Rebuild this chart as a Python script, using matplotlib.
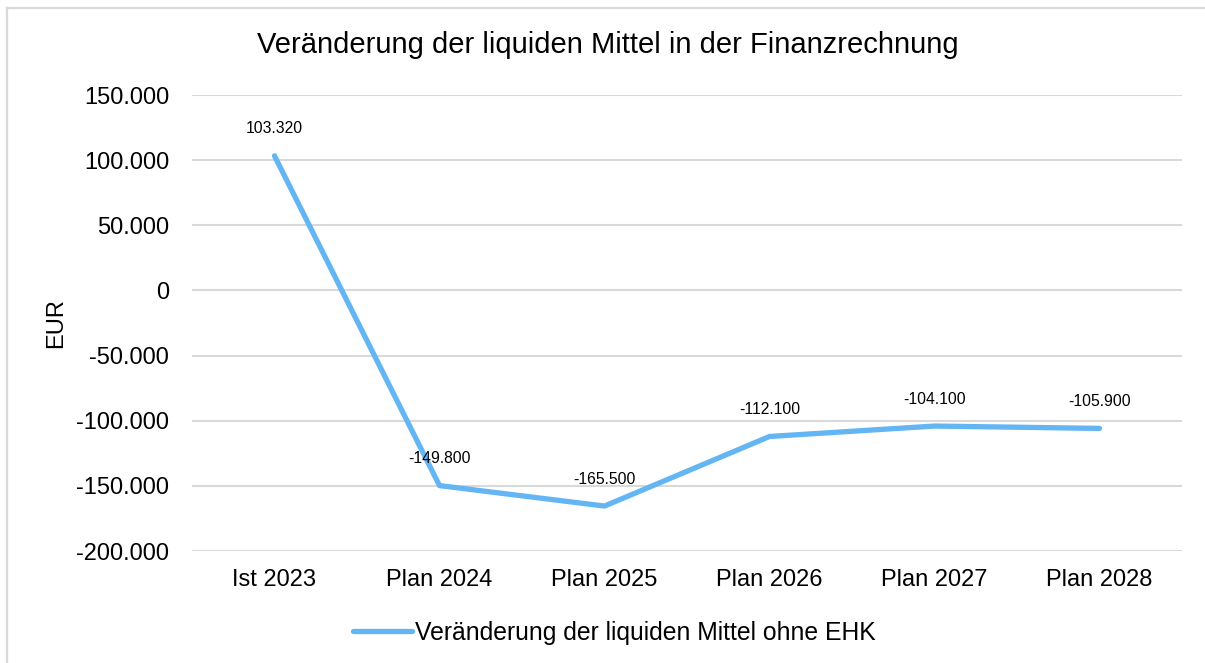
import numpy as np
import matplotlib.pyplot as plt
from matplotlib.ticker import FuncFormatter
from matplotlib.lines import Line2D

plt.rcParams['font.family'] = ['Liberation Sans', 'DejaVu Sans']

# Data
categories = ['Ist 2023', 'Plan 2024', 'Plan 2025', 'Plan 2026', 'Plan 2027', 'Plan 2028']
values = [103320, -149800, -165500, -112100, -104100, -105900]
series_name = 'Veränderung der liquiden Mittel ohne EHK'
title = 'Veränderung der liquiden Mittel in der Finanzrechnung'


def de_format(v, pos=None):
    # German thousands separator
    s = '{:,.0f}'.format(v).replace(',', '.')
    return s


W, H = 1205, 663
fig = plt.figure(figsize=(W / 100, H / 100), dpi=100)
ax = fig.add_axes([192 / W, 1 - 551 / H, (1182 - 192) / W, (551 - 95) / H])

line_color = '#63B5F3'
x = np.arange(len(categories))
ax.plot(x, values, color=line_color, lw=3.8, solid_capstyle='round',
        solid_joinstyle='round', label=series_name, zorder=3)

for xi, v in zip(x, values):
    ax.annotate(de_format(v), (xi, v), xytext=(0, 14), textcoords='offset points',
                ha='center', va='bottom', fontsize=11.3, color='#000000')

ax.set_xlim(-0.5, len(categories) - 0.5)
ax.set_ylim(-200000, 150000)
ax.set_yticks(np.arange(-200000, 150001, 50000))
ax.yaxis.set_major_formatter(FuncFormatter(de_format))
ax.set_xticks(x)
ax.set_xticklabels(categories)
ax.tick_params(axis='both', length=0, labelsize=17, colors='#000000')
ax.tick_params(axis='y', pad=16.5)
ax.tick_params(axis='x', pad=13)
ax.grid(axis='y', color='#d9d9d9', lw=1.5)
ax.set_axisbelow(True)
for sp in ax.spines.values():
    sp.set_visible(False)

ax.set_ylabel('EUR', fontsize=17)
ax.yaxis.set_label_coords(-(192 - 67) / (1182 - 192), 0.5)

fig.text(608 / W, 1 - 45 / H, title, ha='center', va='center', fontsize=21)

leg = fig.legend(handles=[Line2D([0], [0], color=line_color, lw=3.8,
                                 solid_capstyle='round')],
                 labels=[series_name], loc='center',
                 bbox_to_anchor=(614 / W, 1 - 633 / H), frameon=False,
                 fontsize=17.8, handlelength=2.4, handletextpad=0.1)

# partial outer frame (top and left edges visible)
fig.add_artist(Line2D([7 / W, 1.0], [1 - 7.5 / H, 1 - 7.5 / H], color='#d9d9d9', lw=1.6))
fig.add_artist(Line2D([7 / W, 7 / W], [0, 1 - 7.5 / H], color='#d9d9d9', lw=1.6))

fig.savefig('out.png', dpi=100)
